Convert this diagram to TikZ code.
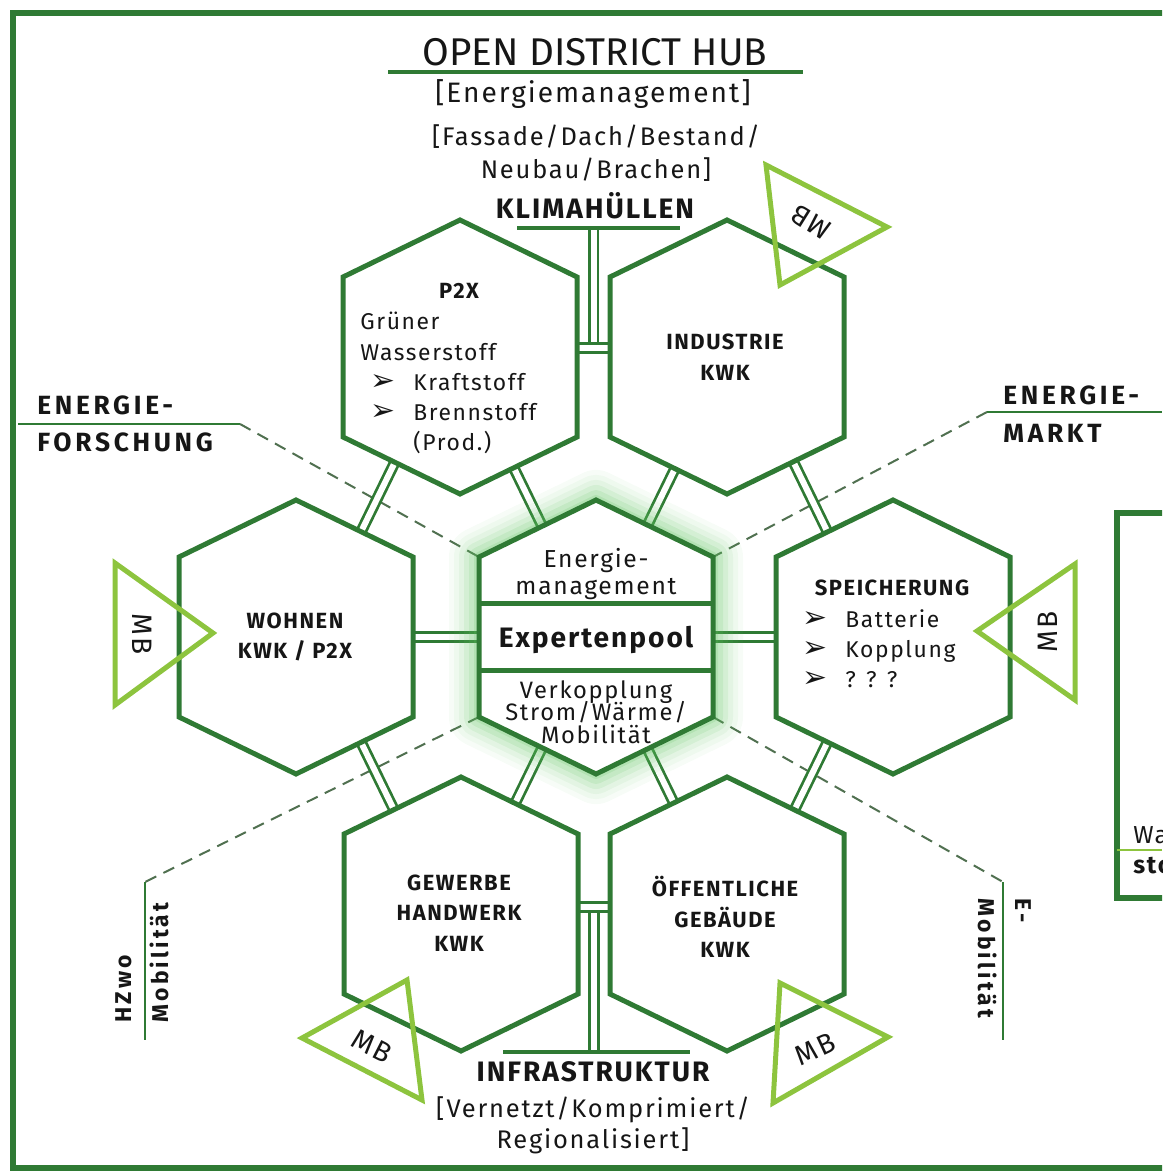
\documentclass[tikz,border=0pt]{standalone}
\usepackage{fontspec}
\setmainfont{Fira Sans}[LetterSpace=7]
\newfontfamily\hubfont{Fira Sans}
\newfontfamily\widefont{Fira Sans}[LetterSpace=14]
\newfontfamily\symfont{DejaVu Sans}
\usepackage{tikz}
\usetikzlibrary{
calc,
positioning,
}
\definecolor{hexgreen}{RGB}{47,122,52}
\definecolor{limegreen}{RGB}{141,196,62}
\definecolor{dashgreen}{RGB}{80,112,80}
\definecolor{glowgreen}{RGB}{95,195,95}
\definecolor{ink}{RGB}{22,22,22}
\newcommand{\arrowbul}{\makebox[24.5pt][l]{\symfont\fontsize{17}{17}\selectfont ➢}}
\newcommand{\tightlines}{\lineskiplimit=-20pt\relax}
\tikzset{
node distance=1em,
every node/.style={align=center, inner sep=0pt, text=ink},
frame/.style={draw=hexgreen, line width=1.2mm},
hexa/.style={draw=hexgreen, line width=1mm, line join=miter},
link/.style={draw=hexgreen, line width=0.55mm, double=white, double distance=1.2mm},
bar/.style={draw=hexgreen, line width=0.9mm},
guide/.style={draw=hexgreen, line width=0.55mm},
hint/.style={draw=dashgreen, line width=0.4mm, dash pattern=on 2.4mm off 1.6mm},
mbtri/.style={draw=limegreen, line width=1mm, line join=miter},
mb/.style={font=\fontsize{16}{16}\selectfont},
head/.style={font=\bfseries\fontsize{12.5}{17.4}\selectfont},
body/.style={font=\fontsize{13}{17.2}\selectfont, align=left},
sidehead/.style={font=\widefont\bfseries\fontsize{15}{21}\selectfont, align=left},
}
\begin{document}
\begin{tikzpicture}[x=0.2mm, y=-0.2mm]
\useasboundingbox (0,0) rectangle (1162,1174);
\clip (0,0) rectangle (1162,1174);

% frame and the cut box on the right
\draw[frame] (13,13) rectangle (1200,1168);
\draw[frame] (1117,513) rectangle (1200,898);
\draw[draw=limegreen, line width=0.3mm] (1117,850) -- (1162,850);
\node[anchor=west, font=\fontsize{14}{14}\selectfont] (wa) at (1133,835) {Wa};
\node[anchor=west, font=\bfseries\fontsize{14}{14}\selectfont] (sto) at (1133,866) {sto};

% hexagon corners
\foreach \n/\x/\y in {p2x/460/357, ind/727/357, woh/296/637, mid/596/637,
                      spe/893/637, gew/461/914, oef/727/914} {
  \coordinate (\n-n)  at (\x,\y-137);
  \coordinate (\n-ne) at (\x+117,\y-80);
  \coordinate (\n-e)  at (\x+117,\y);
  \coordinate (\n-se) at (\x+117,\y+80);
  \coordinate (\n-s)  at (\x,\y+137);
  \coordinate (\n-sw) at (\x-117,\y+80);
  \coordinate (\n-w)  at (\x-117,\y);
  \coordinate (\n-nw) at (\x-117,\y-80);
}

% side guides
\coordinate (fo) at (240,424);
\coordinate (ma) at (987,412);
\coordinate (hz) at (145,882);
\coordinate (em) at (1003,882);
\draw[guide] (18,424) -- (fo);
\draw[hint] (fo) -- (mid-nw);
\draw[guide] (ma) -- (1162,412);
\draw[hint] (ma) -- (mid-ne);
\draw[hint] (mid-sw) -- (hz);
\draw[guide] (hz) -- (145,1040);
\draw[hint] (mid-se) -- (em);
\draw[guide] (em) -- (1003,1040);

% links between hexagons
\foreach \pa/\pb/\qa/\qb/\fr in {mid-nw/mid-n/p2x-se/p2x-s/0.54,
    mid-ne/mid-n/ind-sw/ind-s/0.56, mid-sw/mid-s/gew-ne/gew-n/0.54,
    mid-se/mid-s/oef-nw/oef-n/0.56, woh-n/woh-ne/p2x-sw/p2x-s/0.556,
    woh-s/woh-se/gew-nw/gew-n/0.556, spe-n/spe-nw/ind-se/ind-s/0.56,
    spe-s/spe-sw/oef-ne/oef-n/0.56} {
  \coordinate (lk) at ($(\pa)!\fr!(\pb)$);
  \draw[link] (lk) -- ($(\qa)!(lk)!(\qb)$);
}
\draw[link] (woh-e) -- (mid-w);
\draw[link] (mid-e) -- (spe-w);
\coordinate (klbar) at (593,228);
\coordinate (kljoin) at ($(p2x-e)!0.5!(ind-w)+(0,-9)$);
\draw[link] (kljoin) -- (kljoin |- klbar);
\draw[link] ($(p2x-e)+(0,-9)$) -- ($(ind-w)+(0,-9)$);
\coordinate (infbar) at (596,1052);
\coordinate (infjoin) at ($(gew-e)!0.5!(oef-w)+(0,-7)$);
\draw[link] (infjoin) -- (infjoin |- infbar);
\draw[link] ($(gew-e)+(0,-7)$) -- ($(oef-w)+(0,-7)$);

% glow of the pool
\foreach \w/\o in {60/0.05, 50/0.06, 40/0.08, 30/0.11, 20/0.14, 10/0.18}
  \draw[glowgreen, line width=\w*0.2mm, opacity=\o, line join=round]
    (mid-n) -- (mid-ne) -- (mid-se) -- (mid-s) -- (mid-sw) -- (mid-nw) -- cycle;
\fill[white] (mid-n) -- (mid-ne) -- (mid-se) -- (mid-s) -- (mid-sw) -- (mid-nw) -- cycle;

\foreach \n in {p2x,ind,woh,mid,spe,gew,oef}
  \draw[hexa] (\n-n) -- (\n-ne) -- (\n-se) -- (\n-s) -- (\n-sw) -- (\n-nw) -- cycle;
\draw[hexa] ($(mid-w)+(0,-34)$) -- ($(mid-e)+(0,-34)$);
\draw[hexa] ($(mid-w)+(0,33)$) -- ($(mid-e)+(0,33)$);

% bars
\draw[bar] (388,72) -- (803,72);
\draw[bar] (517,228) -- (680,228);
\draw[bar] (503,1052) -- (690,1052);

% MB triangles
\draw[mbtri] (115,563) -- (115,705) -- (213,633) -- cycle;
\draw[mbtri] (1075,564) -- (1075,700) -- (977,631) -- cycle;
\draw[mbtri] (766,165) -- (887,227) -- (780,285) -- cycle;
\draw[mbtri] (407,980) -- (302,1038) -- (422,1100) -- cycle;
\draw[mbtri] (780,983) -- (888,1037) -- (773,1103) -- cycle;
\node[mb, rotate=-90] (mbwoh) at (142,634) {MB};
\node[mb, rotate=90] (mbspe) at (1048,632) {MB};
\node[mb, rotate=148] (mbind) at (811,222) {MB};
\node[mb, rotate=-27] (mbgew) at (372,1046) {MB};
\node[mb, rotate=25] (mboef) at (815,1049) {MB};

% top and bottom labels
\node[font=\hubfont\fontsize{22}{26}\selectfont] (hub) at (595,52) {OPEN DISTRICT HUB};
\node[font=\fontsize{16}{19}\selectfont] (emg) at (593,94) {[Energiemanagement]};
\node[font=\fontsize{14.5}{18.8}\selectfont] (huelle) at (596,153) {[Fassade/Dach/Bestand/\\Neubau/Brachen]};
\node[font=\bfseries\fontsize{16}{19}\selectfont] (klima) at (595,206) {KLIMAHÜLLEN};
\node[font=\bfseries\fontsize{16}{19}\selectfont] (infra) at (593,1072) {INFRASTRUKTUR};
\node[font=\fontsize{14.5}{17.6}\selectfont] (netz) at (593,1125) {[Vernetzt/Komprimiert/\\Regionalisiert]};

% side labels
\node[sidehead, anchor=west] (forsch) at (37,424) {ENERGIE-\\FORSCHUNG};
\node[sidehead, anchor=west, font=\widefont\bfseries\fontsize{15}{22}\selectfont] (markt) at (1003,414) {ENERGIE-\\MARKT};
\node[sidehead, font=\widefont\bfseries\fontsize{13}{21}\selectfont, rotate=90, anchor=north west] (hzwo) at (115,1023) {HZwo\\Mobilität};
\node[sidehead, font=\widefont\bfseries\fontsize{13}{21}\selectfont, rotate=-90, anchor=north west] (emob) at (1032,898) {E-\\Mobilität};

% hexagon texts
\node[head] (p2xhead) at (459,291) {P2X};
\node[body, anchor=north west] (p2xbody) at (360,312) {Grüner\\Wasserstoff\\
  \hspace*{5.7pt}\arrowbul Kraftstoff\\\hspace*{5.7pt}\arrowbul Brennstoff\\\hspace*{30.2pt}(Prod.)};
\node[head] (indtext) at (725,357) {INDUSTRIE\\KWK};
\node[head] (wohtext) at (295,637) {WOHNEN\\KWK / P2X};
\node[head] (spehead) at (892,588) {SPEICHERUNG};
\node[body, anchor=north west] (spebody) at (802,609) {\arrowbul Batterie\\\arrowbul Kopplung\\\arrowbul ? ? ?};
\node[head] (gewtext) at (459,913) {GEWERBE\\HANDWERK\\KWK};
\node[head] (oeftext) at (725,917) {ÖFFENTLICHE\\GEBÄUDE\\KWK};
\node[font=\fontsize{14}{15.4}\selectfont\tightlines] (emgmt) at (596,574) {Energie-\\management};
\node[font=\bfseries\fontsize{16}{18}\selectfont] (pool) at (596,640) {Expertenpool};
\node[font=\fontsize{13.5}{12.8}\selectfont\tightlines] (kopp) at (596,712) {Verkopplung\\Strom/Wärme/\\Mobilität};
\end{tikzpicture}
\end{document}
